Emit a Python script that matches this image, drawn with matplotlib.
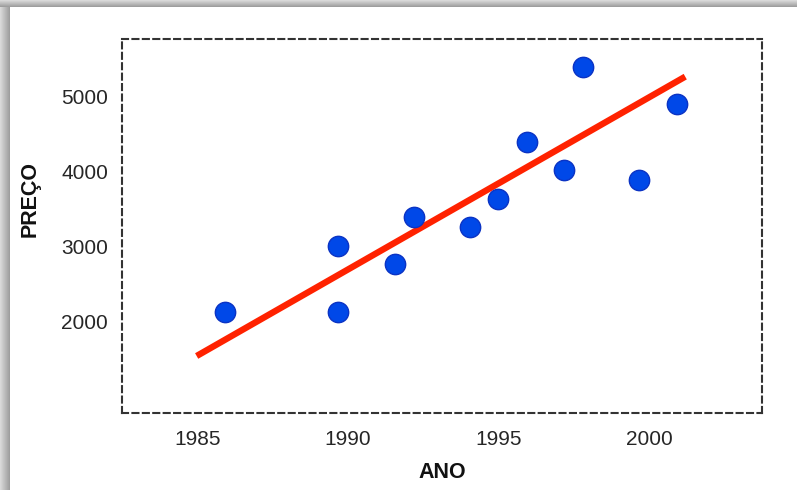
import numpy as np
import matplotlib.pyplot as plt

# price vs. year samples
anos = [1985.91, 1989.68, 1989.68, 1991.56, 1992.19, 1994.05,
        1994.99, 1995.94, 1997.18, 1997.82, 1999.68, 2000.94]
precos = [2133, 3013, 2133, 2765, 3392, 3259,
          3636, 4392, 4023, 5400, 3889, 4899]

# trend line end points
linha_anos = [1984.97, 2001.2]
linha_precos = [1543, 5267]

x_ticks = [1985, 1990, 1995, 2000]
y_ticks = [2000, 3000, 4000, 5000]

plt.rcParams['font.family'] = ['Liberation Sans', 'DejaVu Sans']

W, H = 797, 490
fig = plt.figure(figsize=(W / 100, H / 100), dpi=100)
fig.patch.set_facecolor('white')

ax = fig.add_axes([122 / W, 1 - 413 / H, 640 / W, 374 / H])

ax.plot(linha_anos, linha_precos, color='#ff2200', linewidth=4.6,
        solid_capstyle='butt', zorder=2)
ax.scatter(anos, precos, s=215, color='#0048e8', edgecolors='#0b33c4',
           linewidths=1.0, zorder=3)

ax.set_xlim(1982.49, 2003.75)
ax.set_ylim(783, 5769)
ax.set_xticks(x_ticks)
ax.set_yticks(y_ticks)
ax.tick_params(length=0, labelsize=15, labelcolor='#262626', pad=12)
ax.tick_params(axis='y', pad=10)

for s in ax.spines.values():
    s.set_linestyle((0, (2.9, 2.1)))
    s.set_linewidth(1.5)
    s.set_color('#333333')

fig.text(442 / W, 1 - 472 / H, 'ANO', ha='center', va='center',
         fontsize=15.5, fontweight='bold', color='#111111')
fig.text(30 / W, 1 - 199 / H, 'PREÇO', ha='center', va='center',
         rotation=90, fontsize=15.5, fontweight='bold', color='#111111')

# grey shadow strips along the top and left edges
left = fig.add_axes([0, 0, 10 / W, 1])
left.imshow(np.linspace(0.85, 0.62, 10)[None, :], cmap='gray', vmin=0, vmax=1,
            aspect='auto', extent=(0, 1, 0, 1))
left.axis('off')
top = fig.add_axes([0, 1 - 7 / H, 1, 7 / H])
top.imshow(np.linspace(0.85, 0.62, 7)[:, None], cmap='gray', vmin=0, vmax=1,
           aspect='auto', extent=(0, 1, 0, 1))
top.axis('off')

fig.savefig('out.png', dpi=100)
